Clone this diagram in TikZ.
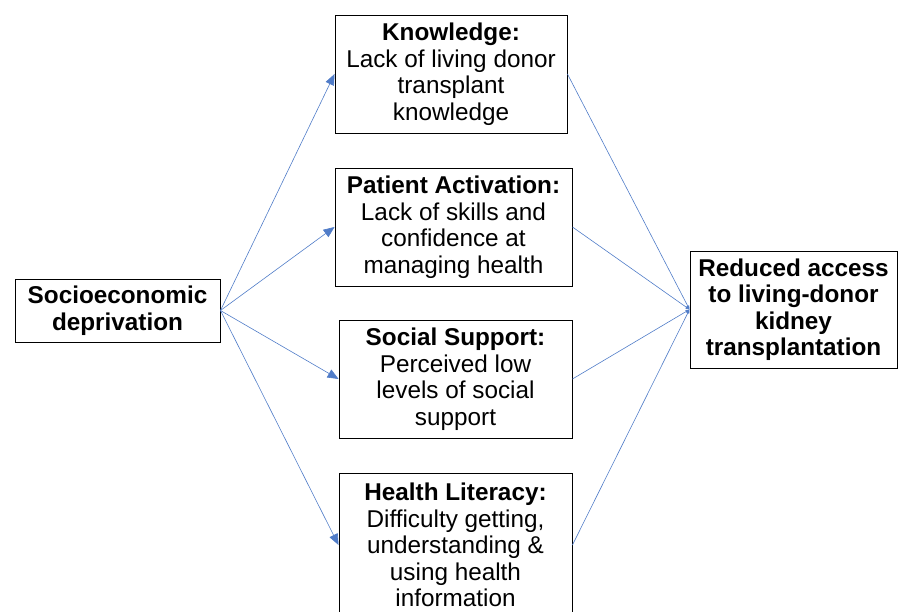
\documentclass[tikz,border=0pt]{standalone}
\usepackage{fontspec}
\setmainfont{Liberation Sans}
\usetikzlibrary{arrows.meta}
\definecolor{linkblue}{RGB}{80,124,200}

\begin{document}
\begin{tikzpicture}[x=1pt,y=-1pt]
            \tikzstyle{box} = [draw=black, line width=0.9pt, inner sep=0pt, align=center,
                               font=\fontsize{24.3}{26.5}\selectfont]
            \tikzstyle{link} = [linkblue, line width=0.6pt, -{Triangle[length=11pt,width=9pt]}]
            \tikzstyle{merge link} = [linkblue, line width=0.6pt, -{Triangle[length=4pt,width=3pt]}]

            \useasboundingbox (0,0) rectangle (900,612);

            \node[box, minimum width=205pt, minimum height=63pt] (socio) at (117.5,310.5)
                {\textbf{Socioeconomic}\\\textbf{deprivation}};

            \node[box, minimum width=232pt, minimum height=118pt] (know) at (451,74)
                {\textbf{Knowledge:}\\Lack of living donor\\transplant\\knowledge};
            \node[box, minimum width=237pt, minimum height=118pt] (activ) at (453.5,227)
                {\textbf{Patient Activation:}\\Lack of skills and\\confidence at\\managing health};
            \node[box, minimum width=233pt, minimum height=118pt] (support) at (455.5,379)
                {\textbf{Social Support:}\\Perceived low\\levels of social\\support};
            \node[box, minimum width=233pt, minimum height=144pt] (literacy) at (455.5,545)
                {\textbf{Health Literacy:}\\Difficulty getting,\\understanding \&\\using health\\information};

            \node[box, minimum width=207pt, minimum height=117pt] (access) at (793.5,309.5)
                {\textbf{Reduced access}\\\textbf{to living-donor}\\\textbf{kidney}\\\textbf{transplantation}};

            % deprivation to the four factors
            \foreach \f in {know, activ, support, literacy}
                \draw[link] (socio.east) -- (\f.west);

            % factors to reduced access
            \foreach \f in {know, activ, support, literacy}
                \draw[merge link] (\f.east) -- (access.west);

        \end{tikzpicture}
\end{document}
